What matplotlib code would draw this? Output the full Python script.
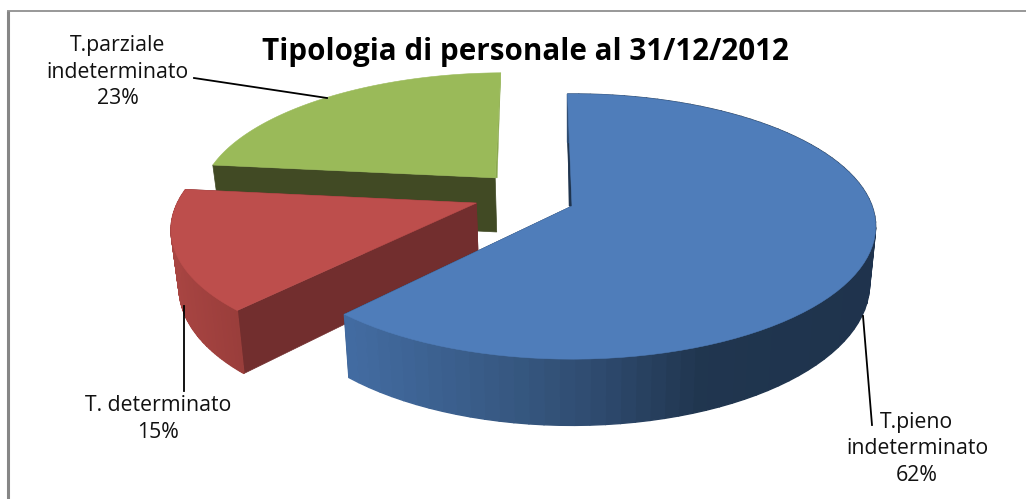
import numpy as np
import matplotlib
matplotlib.use("Agg")
import matplotlib.pyplot as plt

title = "Tipologia di personale al 31/12/2012"
names = ["T.pieno\nindeterminato", "T. determinato", "T.parziale\nindeterminato"]
shares = [62, 15, 23]

top_colors = ["#4f7dba", "#bd4e4c", "#9aba59"]
cut_colors = ["#1f344e", "#722e2e", "#414a24"]
# colore del bordo esterno in funzione della x (px)
side_x = [[350, 520, 600, 700, 880], [170, 240]]
side_rgb = [
    [(0.26, 0.42, 0.63), (0.21, 0.34, 0.50), (0.18, 0.29, 0.43), (0.125, 0.21, 0.31), (0.12, 0.20, 0.30)],
    [(0.66, 0.27, 0.26), (0.60, 0.24, 0.23)],
]
# esplosione delle fette (unita' del raggio)
offsets = [(0.0, 0.0), (-0.32, 0.023), (-0.265, 0.225)]

CX, CY = 572, 206      # centro del disco in px
RX, RY = 300, 129.4    # semiassi
PERSP = 0.155          # prospettiva
DEPTH = 56             # spessore
START = -1.0           # angolo iniziale, gradi in senso orario da nord


def project(theta, r, off):
    u = r * np.sin(theta) + off[0]
    v = r * np.cos(theta) + off[1]
    w = 1 / (1 + PERSP * v)
    return CX + RX * u * w, CY - RY * v * w, w


def lower(x, y, w):
    # punto corrispondente sulla faccia inferiore
    return x + (CX - x) * 0.02, y + DEPTH * w


def draw_slice(ax, i, a0, a1):
    off = offsets[i]
    theta = np.radians(np.linspace(a0, a1, 90))
    x, y, w = project(theta, 1.0, off)
    ax_, ay_, aw_ = project(np.array([0.0]), 0.0, off)
    xb, yb = lower(x, y, w)
    axb, ayb = lower(ax_, ay_, aw_)
    z = i_order[i]

    # facce di taglio
    ax.fill([x[0], ax_[0], axb[0], xb[0]], [y[0], ay_[0], ayb[0], yb[0]],
            color=cut_colors[i], lw=0.5, zorder=z)
    if i < 2:
        ax.fill([x[-1], ax_[0], axb[0], xb[-1]], [y[-1], ay_[0], ayb[0], yb[-1]],
                color=cut_colors[i], lw=0.5, zorder=z)

        # bordo esterno a strisce (la fetta verde non lo mostra)
        for k in range(len(theta) - 1):
            xm = (x[k] + x[k + 1]) / 2
            rgb = [np.interp(xm, side_x[i], [c[j] for c in side_rgb[i]]) for j in range(3)]
            ax.fill([x[k], x[k + 1], xb[k + 1], xb[k]], [y[k], y[k + 1], yb[k + 1], yb[k]],
                    color=rgb, lw=1.0, zorder=z + 0.1)

    # faccia superiore
    ax.fill(np.r_[ax_, x], np.r_[ay_, y], color=top_colors[i], lw=0.4, zorder=z + 0.2)
    return x, y, ax_[0], ay_[0]


fig = plt.figure(figsize=(10.26, 4.99), dpi=100)
ax = fig.add_axes([0, 0, 1, 1])
ax.set_xlim(0, 1026)
ax.set_ylim(499, 0)
ax.axis("off")

# cornice
ax.plot([8, 8], [499, 11], color="#868686", lw=2.2, solid_capstyle="butt", zorder=1)
ax.plot([7, 1026], [11, 11], color="#868686", lw=1.2, solid_capstyle="butt", zorder=1)

i_order = [6, 4, 2]
edges = START + np.cumsum([0] + shares) * 3.6
for i in [2, 1, 0]:
    x, y, apx, apy = draw_slice(ax, i, edges[i], edges[i + 1])
    if i == 0:
        # spigolo scuro sul taglio iniziale
        ax.fill([x[0], apx, apx - 3], [y[0], apy, apy], color=cut_colors[0], lw=0.3, zorder=5.9)
    if i == 2:
        ax.fill([x[-1], apx, apx + 2], [y[-1], apy, apy], color="#8aa84e", lw=0.3, zorder=2.1)

# linee guida
ax.plot([194, 327], [78, 98], color="black", lw=1.3, zorder=10)
ax.plot([184, 184], [306, 391], color="black", lw=1.3, zorder=10)
ax.plot([863, 872], [316, 425], color="black", lw=1.3, zorder=10)

font = "Open Sans"
ax.text(525.5, 52, title, ha="center", va="center", fontsize=21.3, fontweight="bold",
        family=font, color="black", zorder=11)

label_pos = [(917, 449), (158, 419), (118, 72)]
for name, share, pos in zip(names, shares, label_pos):
    ax.text(pos[0], pos[1], f"{name}\n{share}%", ha="center", va="center", fontsize=15.3,
            family=font, color="#111111", linespacing=1.32, zorder=11)

fig.savefig("out.png", dpi=100, facecolor="white")
